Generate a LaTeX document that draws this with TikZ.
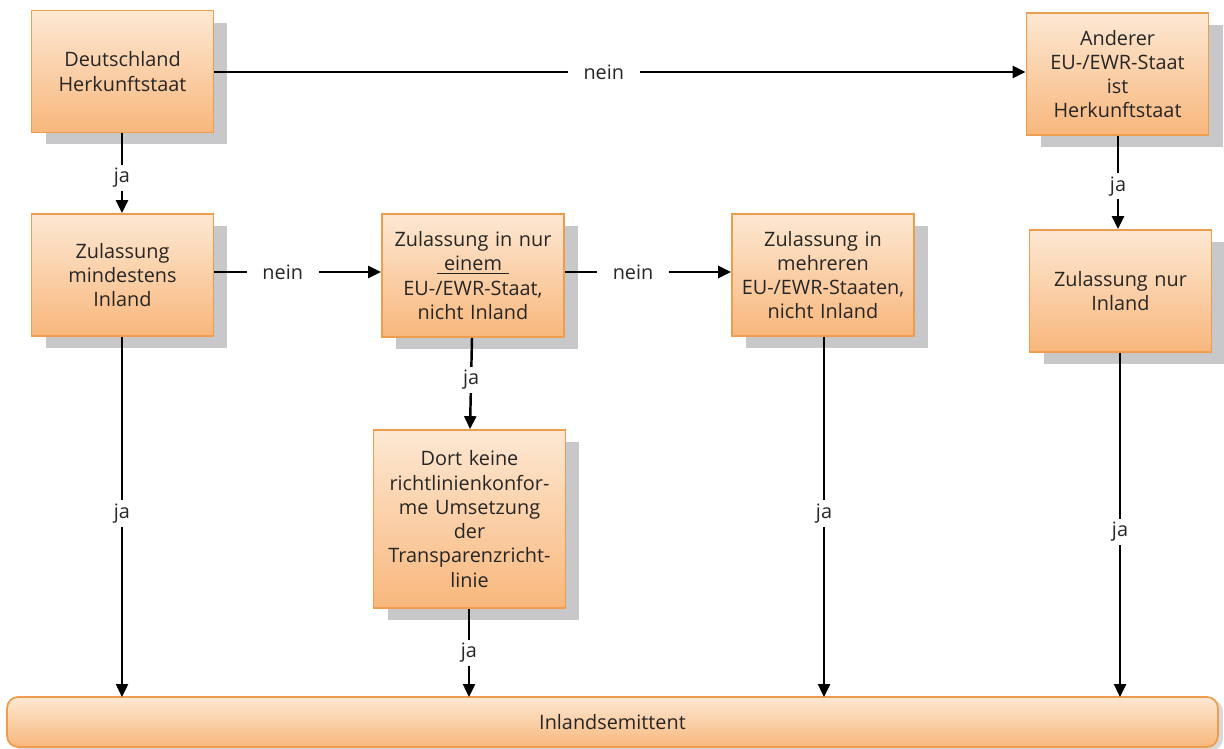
\documentclass[tikz,border=0pt]{standalone}
\usepackage{fontspec}
\setmainfont{Open Sans}
\usetikzlibrary{arrows.meta,shadows}
\definecolor{boxtop}{HTML}{FDE8D3}
\definecolor{boxbot}{HTML}{F8B77C}
\definecolor{boxline}{HTML}{EE9C4E}
\definecolor{shadowgray}{HTML}{C8C8CA}
\definecolor{txt}{HTML}{262626}
\begin{document}
\begin{tikzpicture}[x=0.02cm,y=-0.02cm,
  font=\fontsize{11.3}{13.8}\selectfont, text=txt,
  flowbox/.style={draw=boxline, line width=1pt, top color=boxtop, bottom color=boxbot,
    align=center, inner sep=2pt,
    drop shadow={shadow xshift=0.28cm, shadow yshift=-0.24cm, fill=shadowgray, opacity=1}},
  conn/.style={line width=1.4pt, draw=black, -{Triangle[width=0.24cm,length=0.26cm]}},
  lbl/.style={fill=white, inner xsep=9pt, inner ysep=2pt, text=txt}
]
\useasboundingbox (0,0) rectangle (1224,749);

\node[flowbox, minimum width=3.62cm, minimum height=2.44cm, text width=3.5cm] (b1) at (122.5,71.5) {Deutschland\\Herkunftstaat};
\node[flowbox, minimum width=3.62cm, minimum height=2.44cm, text width=3.5cm] (b2) at (122.5,275) {Zulassung\\mindestens\\Inland};
\node[flowbox, minimum width=3.64cm, minimum height=2.46cm, text width=3.5cm] (b3) at (473,275.5) {Zulassung in nur\\\underline{\ einem\ }\\EU-/EWR-Staat,\\nicht Inland};
\node[flowbox, minimum width=3.78cm, minimum height=3.56cm, text width=3.7cm] (b4) at (469.5,519) {Dort keine\\richtlinienkonfor-\\me Umsetzung\\der\\Transparenzricht-\\linie};
\node[flowbox, minimum width=3.6cm, minimum height=2.44cm, text width=3.5cm] (b5) at (823,275) {Zulassung in\\mehreren\\EU-/EWR-Staaten,\\nicht Inland};
\node[flowbox, minimum width=3.62cm, minimum height=2.44cm, text width=3.5cm] (b6) at (1117.5,74) {Anderer\\EU-/EWR-Staat\\ist\\Herkunftstaat};
\node[flowbox, minimum width=3.58cm, minimum height=2.44cm, text width=3.5cm] (b7) at (1120.5,291) {Zulassung nur\\Inland};
\node[draw=boxline, line width=1pt, top color=boxtop, bottom color=boxbot, rounded corners=0.22cm,
  minimum width=24.22cm, minimum height=1.0cm,
  drop shadow={shadow xshift=0.1cm, shadow yshift=-0.06cm, fill=shadowgray!70, opacity=1}] (bar) at (612.5,722) {Inlandsemittent};

\coordinate (e2) at (122,697);
\coordinate (e4) at (469,697);
\coordinate (e5) at (824,697);
\coordinate (e7) at (1120,697);

\draw[conn] (b1.south -| 122,0) -- node[lbl, pos=0.56] {ja} (b2.north -| 122,0);
\draw[conn] (b1.east |- 0,72) -- node[lbl, pos=0.48] {nein} (b6.west |- 0,72);
\draw[conn] (b2.east |- 0,272) -- node[lbl, pos=0.41] {nein} (b3.west |- 0,272);
\draw[conn] (b3.east |- 0,272) -- node[lbl, pos=0.41] {nein} (b5.west |- 0,272);
\draw[conn] (b3.south -| 472,0) -- node[lbl, pos=0.46] {ja} (b4.north -| 470,0);
\draw[conn] (b6.south -| 1118,0) -- node[lbl, pos=0.54] {ja} (b7.north -| 1118,0);
\draw[conn] (b2.south -| 122,0) -- node[lbl, pos=0.49] {ja} (e2);
\draw[conn] (b4.south -| 469,0) -- node[lbl, pos=0.5] {ja} (e4);
\draw[conn] (b5.south -| 824,0) -- node[lbl, pos=0.49] {ja} (e5);
\draw[conn] (b7.south -| 1120,0) -- node[lbl, pos=0.52] {ja} (e7);
\end{tikzpicture}
\end{document}
